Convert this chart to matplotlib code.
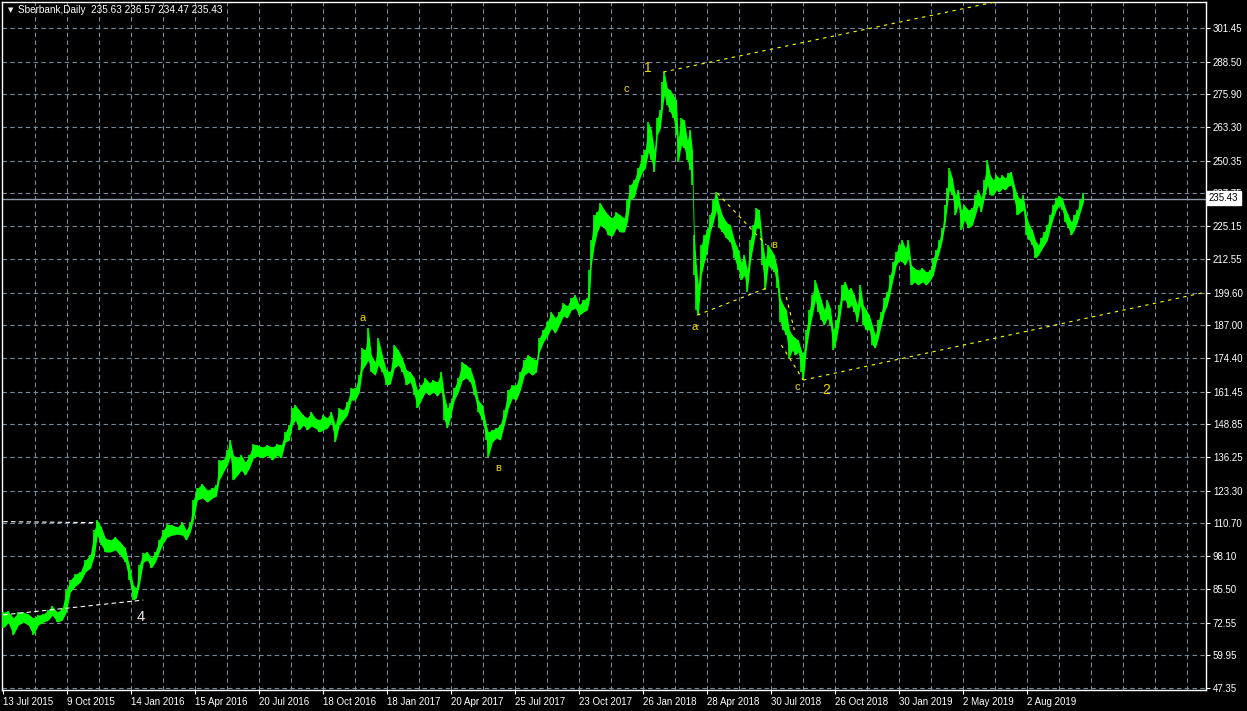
import matplotlib
matplotlib.use('Agg')
import matplotlib.pyplot as plt
import numpy as np

plt.rcParams['font.family'] = ['Liberation Sans', 'DejaVu Sans']

# daily bars: bar index, low, high (price)
bar = [0, 5, 10, 15, 20, 25, 30, 35, 40, 45, 49, 54, 59, 63, 67, 72, 77, 82, 87, 91,
       94, 98, 102, 107, 112, 117, 122, 126, 130, 133, 136, 140, 144, 148, 152, 156, 160, 164, 169, 174,
       179, 183, 187, 190, 194, 199, 204, 209, 213, 216, 220, 224, 227, 230, 234, 238, 242, 246, 250, 254,
       259, 264, 269, 274, 278, 282, 286, 289, 292, 296, 300, 304, 308, 312, 316, 320, 324, 328, 332, 336,
       340, 344, 348, 352, 356, 359, 362, 365, 368, 372, 375, 379, 383, 387, 391, 395, 399, 403, 407, 411,
       414, 418, 422, 426, 430, 434, 438, 441, 444, 447, 451, 455, 459, 463, 467, 471, 475, 479, 483, 485,
       489, 493, 497, 501, 505, 509, 513, 517, 521, 525, 529, 533, 536, 540, 544, 548, 552, 556, 560, 564,
       568, 572, 576, 580, 584, 586, 588, 591, 594, 597, 601, 605, 609, 613, 617, 621, 624, 627, 631, 635,
       639, 642, 645, 648, 651, 654, 657, 659, 661, 664, 667, 670, 673, 675, 678, 681, 684, 687, 689, 691,
       693, 695, 698, 701, 704, 707, 710, 713, 716, 719, 723, 727, 731, 735, 738, 741, 744, 747, 750, 753,
       756, 759, 762, 765, 768, 771, 774, 777, 780, 783, 786, 789, 792, 795, 798, 800, 803, 806, 809, 812,
       815, 818, 821, 824, 827, 830, 833, 836, 839, 842, 845, 848, 851, 854, 857, 860, 863, 866, 869, 872,
       875, 878, 881, 884, 887, 890, 893, 896, 899, 902, 905, 908, 911, 915, 919, 923, 927, 930, 933, 936,
       939, 942, 944, 946, 949, 952, 955, 958, 961, 965, 969, 972, 975, 978, 981, 984, 987, 990, 993, 996,
       999, 1002, 1005, 1008, 1011, 1014, 1017, 1020, 1023, 1026, 1029, 1032, 1035, 1038, 1041, 1044, 1047, 1050, 1053, 1056,
       1059, 1062, 1065, 1068, 1071, 1074, 1077, 1080]
low = [70.5, 72.5, 67.8, 71.6, 72.7, 71.6, 67.8, 71.6, 72.7, 73.5, 75.4, 72.7, 73.5, 76.6, 84.3, 86.6, 88.1, 92.0, 93.5, 98.1,
       106.2, 102.4, 99.7, 99.7, 100.5, 98.5, 95.8, 88.9, 81.2, 82.0, 87.0, 95.8, 96.6, 93.5, 95.8, 99.7, 103.2, 105.5, 106.2, 106.6,
       106.2, 104.3, 107.4, 112.0, 119.7, 120.5, 118.9, 120.5, 121.2, 127.4, 130.5, 133.2, 136.6, 127.4, 129.3, 131.2, 129.3, 132.0, 135.9, 136.6,
       135.9, 137.0, 135.1, 137.0, 135.9, 142.0, 142.8, 148.6, 150.5, 146.7, 148.6, 146.7, 148.2, 147.4, 145.9, 146.7, 147.4, 149.7, 142.0, 148.6,
       150.5, 152.4, 158.2, 158.2, 161.3, 169.8, 171.7, 173.6, 169.0, 167.8, 171.7, 169.0, 164.0, 164.4, 170.5, 171.7, 169.0, 164.0, 165.2, 160.1,
       155.1, 158.2, 161.3, 160.1, 161.3, 159.7, 162.0, 150.5, 147.4, 151.3, 158.2, 161.3, 165.9, 166.7, 165.2, 160.1, 153.6, 150.5, 142.8, 136.3,
       142.0, 143.6, 142.8, 148.6, 155.1, 159.0, 158.2, 162.0, 167.8, 169.0, 167.8, 169.0, 176.7, 180.5, 182.8, 185.9, 184.0, 187.1, 190.6, 189.8,
       192.9, 193.6, 190.9, 192.1, 192.9, 196.7, 210.2, 217.9, 222.9, 225.6, 224.4, 221.7, 221.3, 224.4, 222.9, 222.9, 226.7, 235.2, 236.4, 242.1,
       246.0, 247.5, 253.7, 250.6, 246.0, 260.2, 262.9, 269.9, 275.6, 271.8, 269.1, 266.8, 260.2, 249.8, 256.4, 255.2, 250.6, 246.8, 241.0, 206.3,
       192.9, 190.9, 206.3, 211.3, 216.0, 222.9, 226.7, 231.4, 224.4, 222.9, 220.6, 219.0, 212.9, 208.3, 204.4, 206.3, 199.8, 211.3, 217.9, 224.4,
       224.4, 210.2, 200.6, 210.2, 209.0, 207.5, 201.3, 188.2, 185.2, 183.2, 174.4, 177.5, 175.5, 176.7, 169.0, 165.9, 177.5, 185.2, 190.9, 196.7,
       192.1, 189.0, 187.1, 189.8, 187.1, 177.5, 181.3, 188.2, 196.7, 196.7, 193.6, 194.8, 192.1, 188.2, 194.8, 187.1, 185.2, 185.2, 179.4, 178.2,
       182.1, 187.1, 192.1, 194.8, 199.8, 205.2, 210.2, 212.1, 211.3, 210.2, 212.9, 202.5, 203.7, 202.5, 203.7, 202.5, 204.4, 206.3, 211.3, 215.2,
       219.8, 226.7, 233.3, 239.1, 237.1, 229.4, 233.3, 223.7, 227.5, 224.4, 225.6, 229.4, 233.3, 230.6, 236.0, 241.0, 237.1, 237.1, 239.1, 238.3,
       239.8, 239.1, 240.6, 241.0, 235.2, 229.4, 230.6, 231.4, 221.7, 219.8, 217.9, 212.9, 214.0, 216.0, 217.9, 219.8, 224.4, 228.3, 231.4, 233.3,
       231.4, 226.7, 224.4, 221.7, 223.7, 226.7, 230.6, 234.5]
high = [76.5, 77.0, 74.3, 76.6, 76.6, 75.8, 74.3, 75.4, 75.8, 77.4, 78.9, 76.6, 78.1, 85.0, 88.9, 91.2, 92.0, 96.6, 98.5, 108.1,
        112.0, 109.3, 105.1, 104.3, 105.5, 103.5, 101.2, 94.7, 87.0, 85.8, 94.7, 99.3, 99.7, 97.4, 99.7, 104.3, 108.1, 110.5, 110.1, 109.3,
        111.2, 108.1, 111.2, 119.7, 124.3, 125.9, 123.5, 124.3, 125.5, 135.1, 135.1, 138.9, 142.8, 137.0, 135.9, 137.0, 134.3, 137.0, 141.2, 140.9,
        140.1, 140.9, 140.1, 141.3, 140.9, 145.9, 148.6, 155.1, 156.3, 154.3, 152.4, 151.3, 153.6, 151.3, 150.5, 152.4, 151.3, 153.6, 148.6, 155.1,
        154.3, 157.4, 162.8, 162.8, 167.8, 178.2, 177.4, 185.9, 175.5, 172.8, 182.1, 175.5, 169.8, 169.0, 179.4, 177.4, 174.4, 169.8, 169.0, 166.7,
        162.0, 164.0, 166.7, 164.8, 165.9, 165.1, 169.0, 160.1, 155.1, 157.0, 162.8, 166.7, 172.8, 171.7, 170.5, 165.9, 158.2, 156.3, 148.6, 145.9,
        146.7, 147.4, 148.6, 154.3, 162.0, 164.0, 164.0, 169.0, 173.6, 175.5, 174.4, 173.6, 182.1, 185.2, 188.2, 192.1, 189.8, 192.1, 195.5, 194.4,
        197.5, 198.6, 194.8, 196.7, 197.5, 208.2, 219.8, 229.4, 230.6, 234.1, 231.4, 229.4, 228.3, 230.6, 229.4, 228.3, 235.2, 241.0, 242.9, 247.5,
        252.5, 254.4, 265.2, 262.2, 254.4, 266.8, 269.9, 280.6, 284.5, 278.3, 277.6, 275.6, 273.7, 259.1, 266.8, 266.0, 258.3, 262.2, 254.4, 221.7,
        210.2, 202.5, 217.9, 221.7, 223.7, 229.4, 235.2, 238.3, 233.3, 229.4, 226.7, 225.6, 219.8, 216.0, 211.3, 214.0, 208.2, 219.8, 225.6, 232.1,
        231.4, 219.8, 212.1, 217.9, 216.0, 214.0, 209.0, 197.5, 194.8, 192.9, 185.2, 183.2, 182.1, 181.3, 177.4, 175.5, 185.2, 192.9, 198.6, 204.4,
        200.6, 196.7, 192.9, 196.7, 193.6, 185.2, 189.0, 194.8, 202.5, 203.7, 200.6, 201.3, 198.6, 194.8, 202.5, 194.8, 192.9, 190.9, 187.1, 183.2,
        189.0, 192.1, 197.5, 199.8, 206.3, 211.3, 215.2, 217.9, 219.8, 216.7, 219.8, 210.2, 209.0, 208.2, 209.0, 207.5, 208.2, 212.9, 216.0, 219.8,
        224.4, 233.3, 239.8, 247.5, 243.7, 237.1, 239.1, 231.4, 233.3, 231.4, 232.1, 237.1, 239.1, 236.0, 242.9, 250.6, 244.8, 242.9, 244.8, 243.7,
        244.8, 243.7, 245.6, 246.0, 241.0, 237.1, 235.2, 237.1, 229.4, 225.6, 223.7, 219.8, 217.9, 220.6, 222.9, 225.6, 229.4, 233.3, 236.0, 236.8,
        236.0, 232.1, 229.4, 226.7, 229.4, 231.4, 235.2, 237.9]

last_price = 235.43
title = 'Sberbank,Daily  235.63 236.57 234.47 235.43'

price_ticks = [301.45, 288.50, 275.90, 263.30, 250.35, 237.75, 225.15, 212.55, 199.60, 187.00,
               174.40, 161.45, 148.85, 136.25, 123.30, 110.70, 98.10, 85.50, 72.55, 59.95, 47.35]
date_labels = ['13 Jul 2015', '9 Oct 2015', '14 Jan 2016', '15 Apr 2016', '20 Jul 2016', '18 Oct 2016',
               '18 Jan 2017', '20 Apr 2017', '25 Jul 2017', '23 Oct 2017', '26 Jan 2018', '28 Apr 2018',
               '30 Jul 2018', '26 Oct 2018', '30 Jan 2019', '2 May 2019', '2 Aug 2019']
date_bars = [0, 64, 128, 192, 256, 320, 384, 448, 512, 576, 640, 704, 768, 832, 896, 960, 1024]

# wave labels: text, bar, price, size
waves = [('1', 645, 286.0, 10), ('c', 623, 277.9, 8), ('a', 359, 189.8, 8), ('в', 495, 132.0, 8),
         ('a', 691, 186.3, 8), ('в', 771, 217.9, 8), ('c', 794, 163.2, 8), ('2', 823, 162.1, 10)]
wave4 = ('4', 137, 74.7)

# trend lines (bar0, price0, bar1, price1)
yellow_lines = [(660, 284.5, 992, 311.5), (800, 165.9, 1203, 199.8), (694, 190.9, 763, 201.3),
                (714, 237.9, 763, 217.9), (783, 197.9, 791, 185.2), (778, 179.4, 800, 165.9)]
white_lines = [(0, 111.4, 94, 111.0), (0, 75.5, 140, 81.2)]

W, H = 1247, 711
fig = plt.figure(figsize=(W / 100, H / 100), dpi=100, facecolor='black')
ax = fig.add_axes([2 / W, 21 / H, 1204 / W, 688 / H], facecolor='black')

grid_col = '#778899'
for p in price_ticks:
    ax.axhline(p, color=grid_col, lw=0.8, dashes=(4, 3), zorder=1)
for b in range(32, 1203, 32):
    ax.axvline(b, color=grid_col, lw=0.8, dashes=(4, 3), zorder=1)

ax.axhline(last_price, color='#8d9aab', lw=1, zorder=2)

green = '#00ff00'
ax.fill_between(bar, low, high, color=green, lw=0, zorder=3)
ax.vlines(bar, low, high, color=green, lw=1.2, zorder=3)

for b0, p0, b1, p1 in yellow_lines:
    ax.plot([b0, b1], [p0, p1], color='#ffff00', lw=0.8, dashes=(3, 4), zorder=4)
for b0, p0, b1, p1 in white_lines:
    ax.plot([b0, b1], [p0, p1], color='white', lw=0.8, dashes=(4, 3), zorder=4)

for t, b, p, s in waves:
    ax.text(b, p, t, color='#f0d800', fontsize=s, ha='center', va='center', zorder=5)
ax.text(wave4[1], wave4[2], wave4[0], color='#e8e8f0', fontsize=10.5, ha='center', va='center', zorder=5)

ax.set_xlim(-1.3, 1202.7)
ax.set_ylim(46.58, 311.46)

ax.set_yticks(price_ticks)
ax.set_yticklabels(['%.2f' % p for p in price_ticks])
ax.yaxis.tick_right()
ax.tick_params(axis='y', length=3, width=0.8, color='white', labelcolor='white', labelsize=7, pad=2)

ax.set_xticks(date_bars)
ax.set_xticklabels(date_labels)
ax.tick_params(axis='x', length=3, width=0.8, color='white', labelcolor='white', labelsize=7, pad=2)
for lab in ax.get_xticklabels():
    lab.set_ha('left')

for s in ax.spines.values():
    s.set_color('white')
    s.set_linewidth(1)

fig.text(8 / W, 1 - 10 / H, '▼', color='white', fontsize=5, va='center', family='DejaVu Sans')
fig.text(18 / W, 1 - 10 / H, title, color='white', fontsize=7.2, va='center')
fig.text(1209 / W, 1 - 198 / H, '%.2f' % last_price, color='black', fontsize=7, va='center',
         bbox=dict(facecolor='white', edgecolor='white', pad=1.5))

fig.savefig('out.png', dpi=100, facecolor='black')
